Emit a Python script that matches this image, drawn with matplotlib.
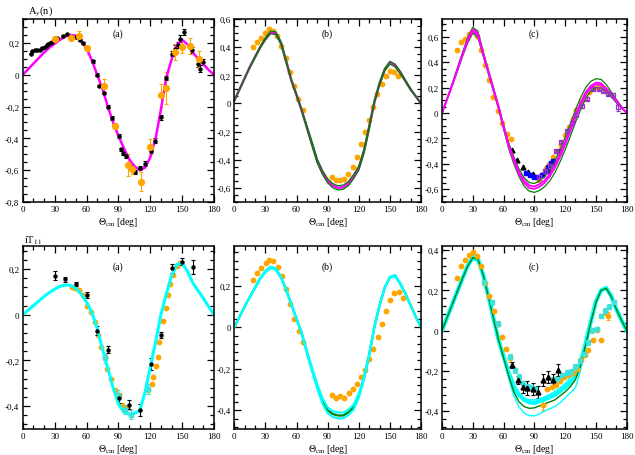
import numpy as np
import matplotlib
matplotlib.use("Agg")
import matplotlib.pyplot as plt
from matplotlib.ticker import MultipleLocator, FuncFormatter

plt.rcParams['font.family'] = 'serif'
plt.rcParams['font.serif'] = ['Liberation Serif', 'DejaVu Serif']
plt.rcParams['mathtext.fontset'] = 'stix'

ORANGE = '#ffa500'
MAGENTA = '#ff00ff'
GREEN = '#008000'
CYAN = '#00ffff'
CYAN_PT = '#3ee0d8'
PURPLE = '#9932cc'
BLUE = '#0000ff'

# angle grid of the calculated curves (deg)
th = list(range(0, 181, 5))

########## top row: A_y(n)
# (a)
ay_a = [0.00, 0.035, 0.07, 0.105, 0.14, 0.17, 0.195, 0.22, 0.24, 0.25, 0.245, 0.215,
        0.165, 0.09, 0.00, -0.09, -0.20, -0.30, -0.385, -0.46, -0.53, -0.575, -0.60,
        -0.585, -0.52, -0.40, -0.22, -0.02, 0.095, 0.185, 0.22, 0.19, 0.14, 0.10,
        0.065, 0.03, 0.0]
ay_a_blk_th = [7.3, 8.9, 11, 13.6, 15.8, 18.4, 20.6, 22.5, 24, 25.7, 27.2, 32.6, 37.4, 42,
               50, 54, 56.4, 60, 66.5, 69.7, 72, 76, 80, 84, 86.5, 90.3, 92.8, 94.4, 97,
               101.7, 105.5, 110, 115, 121, 124.5, 130, 135, 140, 143, 145.8, 148, 152,
               159, 165, 166.7, 170]
ay_a_blk_v = [0.133, 0.147, 0.154, 0.154, 0.158, 0.168, 0.175, 0.185, 0.196, 0.2, 0.206,
              0.232, 0.244, 0.253, 0.24, 0.217, 0.2, 0.164, 0.084, 0.0, -0.07, -0.114,
              -0.2, -0.27, -0.32, -0.383, -0.47, -0.49, -0.51, -0.58, -0.61, -0.585,
              -0.56, -0.48, -0.415, -0.267, -0.02, 0.133, 0.164, 0.185, 0.227, 0.27,
              0.154, 0.07, 0.038, 0.08]
ay_a_blk_e = [0.005] * 14 + [0.008] * 8 + [0.012] * 10 + [0.015] * 6 + [0.02] * 8
ay_a_or_th = [30, 45, 52.6, 60, 76, 86.5, 99, 103, 111, 120, 130.5, 134.6, 143.6, 150, 157, 166]
ay_a_or_v = [0.223, 0.232, 0.244, 0.168, -0.07, -0.324, -0.568, -0.594, -0.674, -0.457,
             -0.13, -0.085, 0.143, 0.175, 0.18, 0.10]
ay_a_or_e = [0.015, 0.01, 0.03, 0.01, 0.04, 0.02, 0.07, 0.03, 0.06, 0.05, 0.07, 0.1,
             0.05, 0.04, 0.05, 0.05]

# (b)
ay_b_mag = [0.02, 0.10, 0.18, 0.26, 0.33, 0.40, 0.46, 0.505, 0.50, 0.43, 0.30, 0.165,
            0.06, -0.05, -0.17, -0.29, -0.41, -0.49, -0.55, -0.585, -0.60, -0.595, -0.57,
            -0.52, -0.46, -0.34, -0.17, 0.01, 0.14, 0.24, 0.29, 0.27, 0.22, 0.16, 0.10,
            0.05, 0.0]
ay_b_gr1 = [0.02, 0.10, 0.18, 0.26, 0.335, 0.405, 0.468, 0.515, 0.51, 0.44, 0.31, 0.17,
            0.065, -0.045, -0.16, -0.275, -0.395, -0.475, -0.535, -0.57, -0.585, -0.58,
            -0.555, -0.505, -0.445, -0.325, -0.155, 0.02, 0.15, 0.25, 0.30, 0.28, 0.23,
            0.165, 0.105, 0.05, 0.0]
ay_b_gr2 = [0.02, 0.10, 0.18, 0.255, 0.325, 0.395, 0.452, 0.495, 0.49, 0.42, 0.29, 0.16,
            0.055, -0.055, -0.18, -0.305, -0.425, -0.505, -0.565, -0.60, -0.615, -0.61,
            -0.585, -0.535, -0.475, -0.355, -0.185, 0.0, 0.13, 0.23, 0.28, 0.26, 0.21,
            0.155, 0.095, 0.05, 0.0]
ay_b_or_th = [17.7, 22.2, 25.7, 29.6, 33.8, 37.6, 41.5, 45.3, 49.8, 53.7, 57.9, 61.7, 66.2,
              93.9, 98, 101.9, 105.8, 110, 114, 118, 122, 126, 130.2, 134, 137.9, 142,
              146, 150, 154, 158]
ay_b_or_v = [0.40, 0.44, 0.466, 0.50, 0.53, 0.518, 0.478, 0.41, 0.325, 0.223, 0.122, 0.03,
             -0.047, -0.525, -0.541, -0.541, -0.536, -0.499, -0.452, -0.381, -0.289,
             -0.205, -0.118, -0.024, 0.064, 0.141, 0.195, 0.228, 0.224, 0.193]

# (c)
ay_c_mag1 = [0.0, 0.11, 0.225, 0.345, 0.465, 0.58, 0.66, 0.63, 0.475, 0.335, 0.195, 0.055,
             -0.10, -0.25, -0.36, -0.46, -0.53, -0.57, -0.578, -0.56, -0.53, -0.48, -0.41,
             -0.32, -0.225, -0.12, -0.01, 0.08, 0.165, 0.215, 0.24, 0.235, 0.195, 0.145,
             0.095, 0.045, 0.0]
ay_c_mag2 = [0.0, 0.11, 0.22, 0.335, 0.455, 0.565, 0.645, 0.61, 0.465, 0.325, 0.185, 0.045,
             -0.115, -0.265, -0.38, -0.48, -0.55, -0.59, -0.598, -0.58, -0.55, -0.50, -0.43,
             -0.345, -0.25, -0.145, -0.035, 0.06, 0.145, 0.20, 0.225, 0.222, 0.185, 0.135,
             0.088, 0.042, 0.0]
ay_c_gr1 = [0.0, 0.115, 0.23, 0.355, 0.475, 0.595, 0.675, 0.645, 0.49, 0.345, 0.205, 0.06,
            -0.09, -0.235, -0.345, -0.44, -0.51, -0.548, -0.555, -0.535, -0.50, -0.45,
            -0.38, -0.29, -0.19, -0.085, 0.025, 0.12, 0.20, 0.25, 0.27, 0.265, 0.225,
            0.165, 0.105, 0.05, 0.0]
ay_c_gr2 = [0.0, 0.105, 0.215, 0.33, 0.445, 0.55, 0.63, 0.595, 0.455, 0.315, 0.175, 0.035,
            -0.125, -0.28, -0.40, -0.50, -0.575, -0.615, -0.625, -0.61, -0.58, -0.535,
            -0.47, -0.385, -0.29, -0.185, -0.075, 0.025, 0.115, 0.175, 0.20, 0.20, 0.17,
            0.125, 0.08, 0.04, 0.0]
ay_c_or_th = [14.7, 18.6, 22.2, 26, 30, 34.6, 38.5, 42.4, 46.3, 50.2, 54.5, 58.7, 62.9,
              66.8, 94.5, 98, 101, 104, 108, 112.5, 115.7, 119.7, 123.9, 127.5, 131,
              135.3, 139.5, 143.5, 147.7, 151.6, 155.9, 159.8]
ay_c_or_v = [0.499, 0.556, 0.585, 0.622, 0.648, 0.604, 0.499, 0.381, 0.262, 0.126, 0.018,
             -0.081, -0.165, -0.202, -0.525, -0.48, -0.433, -0.40, -0.35, -0.30, -0.25,
             -0.176, -0.11, -0.05, 0.026, 0.084, 0.126, 0.163, 0.197, 0.202, 0.197, 0.17]
ay_c_tri_th = [68.5, 73.4, 78.6, 83.8, 88.7, 104.3, 109.2, 114]
ay_c_tri_v = [-0.289, -0.367, -0.428, -0.467, -0.48, -0.451, -0.375, -0.30]
ay_c_blu_th = [81.5, 85.7, 89.6, 93.5, 97.8, 101.1, 103.3, 106, 108.6]
ay_c_blu_v = [-0.472, -0.49, -0.504, -0.507, -0.486, -0.459, -0.428, -0.394, -0.38]
ay_c_pur_th = [95, 100, 105, 110.8, 116.4, 121.6, 126.2, 131, 136, 140.9, 146.7, 152.6,
               157.2, 162, 167, 171.5]
ay_c_pur_v = [-0.50, -0.46, -0.42, -0.30, -0.228, -0.144, -0.079, -0.013, 0.052, 0.113,
              0.192, 0.192, 0.176, 0.15, 0.144, 0.045]
ay_c_pur_e = [0.01] * 15 + [0.03]

########## bottom row: iT11
# (a)
it_a_cy = [0.0, 0.02, 0.04, 0.06, 0.08, 0.097, 0.112, 0.124, 0.13, 0.128, 0.115, 0.09,
           0.055, 0.01, -0.06, -0.15, -0.235, -0.32, -0.39, -0.425, -0.435, -0.432, -0.42,
           -0.34, -0.23, -0.12, 0.0, 0.09, 0.17, 0.22, 0.226, 0.19, 0.14, 0.105, 0.072,
           0.035, 0.0]
it_a_blk_th = [30.4, 40, 50, 60.2, 69.7, 80.2, 90.3, 100.1, 110.3, 120.4, 130.2, 140.4, 149.9, 160.3]
it_a_blk_v = [0.17, 0.155, 0.134, 0.086, -0.07, -0.153, -0.365, -0.394, -0.416, -0.215,
              -0.089, 0.203, 0.231, 0.209]
it_a_blk_e = [0.02, 0.01, 0.007, 0.012, 0.02, 0.015, 0.02, 0.02, 0.025, 0.025, 0.015, 0.02, 0.015, 0.03]
it_a_or_th = [46.3, 49.4, 52.6, 56.4, 60.2, 63.7, 67.5, 70.7, 73.8, 77, 79.2, 83.3, 87.1,
              90.6, 93.8, 97, 118.2, 121.4, 123, 125.5, 127, 128.6, 131.8, 135, 136.6,
              138.8, 141.3, 145, 147.6]
it_a_or_v = [0.122, 0.119, 0.108, 0.086, 0.039, 0.013, -0.031, -0.087, -0.142, -0.186,
             -0.237, -0.28, -0.331, -0.353, -0.397, -0.41, -0.331, -0.302, -0.273, -0.225,
             -0.183, -0.12, -0.029, 0.028, 0.086, 0.134, 0.174, 0.214, 0.228]
it_a_sq_th = [77, 89.7, 96, 101.4, 118]
it_a_sq_v = [-0.19, -0.35, -0.415, -0.437, -0.325]

# (b)
it_b_gr = [0.0, 0.05, 0.10, 0.145, 0.19, 0.235, 0.268, 0.288, 0.28, 0.24, 0.18, 0.11,
           0.04, -0.03, -0.12, -0.205, -0.285, -0.355, -0.40, -0.418, -0.425, -0.425,
           -0.41, -0.385, -0.33, -0.245, -0.135, 0.0, 0.105, 0.19, 0.24, 0.248, 0.21,
           0.16, 0.105, 0.05, 0.0]
it_b_cy1 = [0.0, 0.05, 0.10, 0.147, 0.193, 0.238, 0.272, 0.292, 0.284, 0.244, 0.184, 0.114,
            0.044, -0.025, -0.113, -0.196, -0.274, -0.342, -0.386, -0.404, -0.411, -0.411,
            -0.397, -0.373, -0.319, -0.237, -0.128, 0.005, 0.109, 0.193, 0.243, 0.251,
            0.213, 0.162, 0.106, 0.05, 0.0]
it_b_cy2 = [0.0, 0.05, 0.10, 0.143, 0.187, 0.232, 0.264, 0.284, 0.276, 0.236, 0.176, 0.106,
            0.036, -0.035, -0.127, -0.214, -0.296, -0.368, -0.414, -0.432, -0.439, -0.439,
            -0.423, -0.397, -0.341, -0.253, -0.142, -0.005, 0.101, 0.187, 0.237, 0.245,
            0.207, 0.158, 0.104, 0.05, 0.0]
it_b_or_th = [17.7, 22.2, 25.8, 30.3, 33.8, 37.7, 42.2, 46, 50.2, 54.1, 58, 62.1, 66.3,
              94, 98.2, 102, 106.2, 110.1, 114.3, 118.2, 122.3, 126.2, 130, 133.9, 138.1,
              142, 146.2, 150.4, 154.2, 158.4, 162.3]
it_b_or_v = [0.226, 0.261, 0.287, 0.311, 0.323, 0.319, 0.29, 0.245, 0.184, 0.11, 0.04,
             -0.019, -0.073, -0.327, -0.339, -0.331, -0.339, -0.319, -0.297, -0.271,
             -0.242, -0.206, -0.153, -0.105, -0.045, 0.016, 0.076, 0.132, 0.166, 0.169, 0.142]

# (c)
it_c_cyl = [0.0, 0.065, 0.13, 0.195, 0.26, 0.325, 0.375, 0.365, 0.285, 0.175, 0.06, -0.055,
            -0.145, -0.24, -0.325, -0.38, -0.41, -0.423, -0.425, -0.415, -0.40, -0.39,
            -0.378, -0.36, -0.335, -0.31, -0.285, -0.20, -0.08, 0.04, 0.14, 0.20, 0.21,
            0.17, 0.105, 0.05, 0.0]
it_c_cyu = [0.0, 0.06, 0.125, 0.19, 0.25, 0.31, 0.352, 0.345, 0.275, 0.175, 0.07, -0.035,
            -0.115, -0.195, -0.265, -0.31, -0.335, -0.345, -0.345, -0.34, -0.33, -0.318,
            -0.303, -0.285, -0.263, -0.235, -0.21, -0.14, -0.055, 0.05, 0.15, 0.205, 0.212,
            0.17, 0.105, 0.05, 0.0]
it_c_cym = [0.0, 0.065, 0.13, 0.195, 0.26, 0.322, 0.366, 0.358, 0.28, 0.175, 0.065, -0.045,
            -0.128, -0.21, -0.28, -0.32, -0.345, -0.357, -0.36, -0.352, -0.342, -0.332,
            -0.32, -0.302, -0.282, -0.258, -0.228, -0.16, -0.062, 0.045, 0.145, 0.20,
            0.212, 0.17, 0.105, 0.05, 0.0]
it_c_gr = [0.0, 0.065, 0.13, 0.195, 0.26, 0.32, 0.362, 0.355, 0.28, 0.175, 0.065, -0.045,
           -0.135, -0.225, -0.305, -0.355, -0.378, -0.387, -0.385, -0.375, -0.365, -0.355,
           -0.345, -0.325, -0.305, -0.28, -0.245, -0.175, -0.07, 0.04, 0.14, 0.20, 0.21,
           0.168, 0.105, 0.05, 0.0]
it_c_or_th = [14.6, 18.2, 22, 26, 30, 34, 38, 42.2, 46, 50.3, 54.2, 58.4, 62.3, 66.5,
              98.9, 102.1, 107, 111.2, 115.1, 119, 123.2, 127.2, 131.4, 135.3, 139.4,
              142.6, 146.9, 150.8, 155.4, 159.6, 162.1]
it_c_or_v = [0.263, 0.32, 0.35, 0.375, 0.392, 0.37, 0.32, 0.237, 0.173, 0.098, 0.034,
             -0.034, -0.093, -0.138, -0.37, -0.289, -0.28, -0.269, -0.252, -0.23, -0.222,
             -0.21, -0.192, -0.146, -0.121, -0.096, -0.045, 0.005, -0.049, 0.089, 0.072]
it_c_or_e = [0] * 13 + [0.02, 0.025] + [0] * 15 + [0.02]
it_c_sq_th = [40.5, 48.7, 54.5, 66.5, 70.7, 74.6, 78.5, 82.7, 86.9, 90.2, 107.7, 112,
              116.8, 121.6, 125.5, 129.7, 134.6, 138.8, 142.7, 146.6, 150.8, 154.7, 159,
              162.8, 167.4]
it_c_sq_v = [0.24, 0.14, 0.034, -0.13, -0.197, -0.23, -0.261, -0.278, -0.281, -0.29,
             -0.244, -0.239, -0.222, -0.21, -0.205, -0.18, -0.15, -0.116, -0.059, 0.002,
             0.008, 0.072, 0.098, 0.118, 0.14]
it_c_tri_th = [68.1, 73.6, 78.5, 83.3, 88.2, 93.4, 98.2, 103.4, 108, 113.5]
it_c_tri_v = [-0.171, -0.247, -0.281, -0.286, -0.289, -0.306, -0.244, -0.23, -0.247, -0.197]
it_c_tri_e = [0.015, 0.02, 0.03, 0.035, 0.03, 0.03, 0.03, 0.03, 0.03, 0.03]

#############################################

def fmt(v, pos):
    if abs(v) < 1e-9:
        return '0'
    return ('%.1f' % v).replace('.', ',')


def setup(ax, ylim, ymaj, ymin, label, ly):
    ax.set_xlim(0, 180)
    ax.set_ylim(*ylim)
    ax.xaxis.set_major_locator(MultipleLocator(30))
    ax.xaxis.set_minor_locator(MultipleLocator(10))
    ax.yaxis.set_major_locator(MultipleLocator(ymaj))
    ax.yaxis.set_minor_locator(MultipleLocator(ymin))
    ax.yaxis.set_major_formatter(FuncFormatter(fmt))
    ax.tick_params(which='both', direction='in', top=True, right=True, labelsize=6.5,
                   width=0.9, pad=2.5)
    ax.tick_params(which='major', length=5)
    ax.tick_params(which='minor', length=2.8)
    for s in ax.spines.values():
        s.set_linewidth(1.1)
    ax.set_xlabel(r'$\Theta_{\rm cm}$ [deg]', fontsize=7, labelpad=1)
    ax.text(0.5, ly, label, transform=ax.transAxes, ha='center', va='center', fontsize=7)


fig = plt.figure(figsize=(6.35, 4.56), dpi=100)
lefts = [0.036, 0.369, 0.696]
widths = [0.301, 0.294, 0.291]
top_axes = [fig.add_axes([lefts[i], 0.555, widths[i], 0.401]) for i in range(3)]
bot_axes = [fig.add_axes([lefts[i], 0.057, widths[i], 0.401]) for i in range(3)]

ms = 4.2
ekw = dict(elinewidth=0.8, capsize=1.5, capthick=0.8)

# ---- top (a)
ax = top_axes[0]
ax.errorbar(ay_a_blk_th, ay_a_blk_v, yerr=ay_a_blk_e, fmt='o', color='k', ms=2.2, **ekw)
ax.errorbar(ay_a_or_th, ay_a_or_v, yerr=ay_a_or_e, fmt='o', color=ORANGE, ms=ms, **ekw)
ax.plot(th, ay_a, color=MAGENTA, lw=1.8)
setup(ax, (-0.8, 0.35), 0.2, 0.05, '(a)', 0.92)

# ---- top (b)
ax = top_axes[1]
ax.plot(ay_b_or_th, ay_b_or_v, 'o', color=ORANGE, ms=ms, mec='none')
ax.plot(th, ay_b_mag, color=MAGENTA, lw=1.8)
ax.plot(th, ay_b_gr1, color=GREEN, lw=0.9)
ax.plot(th, ay_b_gr2, color=GREEN, lw=0.9)
setup(ax, (-0.7, 0.6), 0.2, 0.05, '(b)', 0.92)

# ---- top (c)
ax = top_axes[2]
ax.plot(ay_c_or_th, ay_c_or_v, 'o', color=ORANGE, ms=ms, mec='none')
ax.plot(ay_c_tri_th, ay_c_tri_v, '^', color='k', ms=3.5)
ax.plot(ay_c_blu_th, ay_c_blu_v, 's', color=BLUE, ms=3.2)
ax.errorbar(ay_c_pur_th, ay_c_pur_v, yerr=ay_c_pur_e, fmt='s', color=PURPLE, mfc='none',
            ms=3.2, mew=0.9, **ekw)
ax.plot(th, ay_c_gr1, color=GREEN, lw=0.9)
ax.plot(th, ay_c_gr2, color=GREEN, lw=0.9)
ax.plot(th, ay_c_mag1, color=MAGENTA, lw=1.3)
ax.plot(th, ay_c_mag2, color=MAGENTA, lw=1.3)
setup(ax, (-0.7, 0.74), 0.2, 0.05, '(c)', 0.92)

# ---- bottom (a)
ax = bot_axes[0]
ax.plot(it_a_or_th, it_a_or_v, 'o', color=ORANGE, ms=ms, mec='none')
ax.errorbar(it_a_sq_th, it_a_sq_v, yerr=0.02, fmt='s', color=CYAN_PT, ms=3.2, **ekw)
ax.errorbar(it_a_blk_th, it_a_blk_v, yerr=it_a_blk_e, fmt='o', color='k', ms=2.2, **ekw)
ax.plot(th, it_a_cy, color=CYAN, lw=2.2)
setup(ax, (-0.5, 0.3), 0.2, 0.04, '(a)', 0.89)

# ---- bottom (b)
ax = bot_axes[1]
ax.plot(it_b_or_th, it_b_or_v, 'o', color=ORANGE, ms=ms, mec='none')
ax.plot(th, it_b_gr, color=GREEN, lw=1.6)
ax.plot(th, it_b_cy1, color=CYAN, lw=1.5)
ax.plot(th, it_b_cy2, color=CYAN, lw=1.5)
setup(ax, (-0.49, 0.39), 0.2, 0.04, '(b)', 0.89)

# ---- bottom (c)
ax = bot_axes[2]
ax.errorbar(it_c_or_th, it_c_or_v, yerr=it_c_or_e, fmt='o', color=ORANGE, ms=ms, mec='none', **ekw)
ax.errorbar(it_c_sq_th, it_c_sq_v, yerr=0.012, fmt='s', color=CYAN_PT, ms=3.2, **ekw)
ax.errorbar(it_c_tri_th, it_c_tri_v, yerr=it_c_tri_e, fmt='^', color='k', ms=3.5, **ekw)
ax.plot(th, it_c_cyl, color=CYAN, lw=1.0)
ax.plot(th, it_c_cyu, color=CYAN, lw=1.0)
ax.plot(th, it_c_cym, color=CYAN, lw=3.0)
ax.plot(th, it_c_gr, color=GREEN, lw=1.0)
setup(ax, (-0.49, 0.42), 0.2, 0.04, '(c)', 0.89)

fig.text(0.044, 0.975, r'A$_y$(n)', fontsize=7.5, va='center')
fig.text(0.038, 0.472, r'iT$_{11}$', fontsize=7.5, va='center')

plt.savefig('out.png', dpi=100)
